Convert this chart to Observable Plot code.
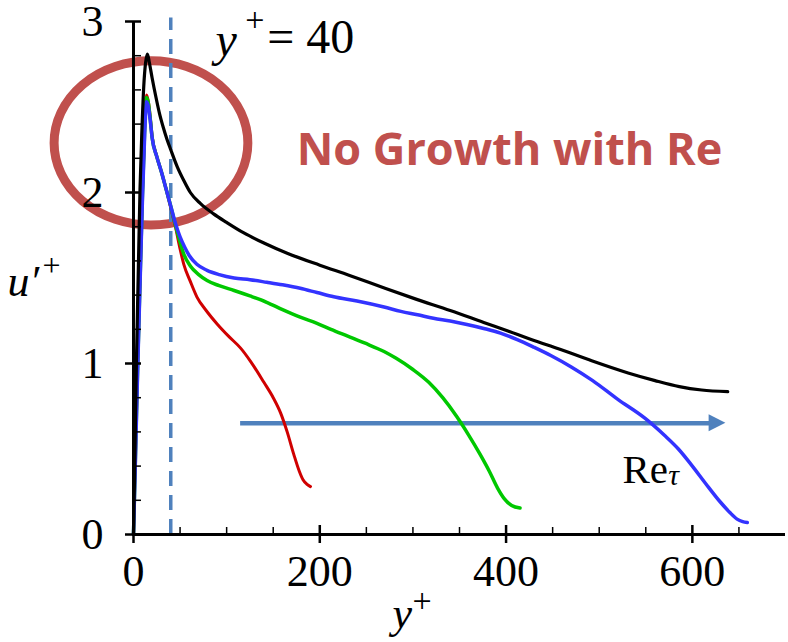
<!DOCTYPE html>
<html>
<head>
<meta charset="utf-8">
<script src="https://cdn.jsdelivr.net/npm/d3@7"></script>
<script src="https://cdn.jsdelivr.net/npm/@observablehq/plot@0.6"></script>
<style>
  body { margin: 0; background: #fff; }
</style>
</head>
<body>
<div id="chart"></div>
<script>
// Streamwise turbulence intensity u'+ against wall distance y+ for four channel flows.

const redYPlus = [0, 2, 4.5, 7, 9.5, 12, 14, 16, 18, 20, 25, 30, 35, 40, 45, 50, 54, 61, 68, 78, 90, 102, 115, 126, 140, 150, 158, 165, 172, 178, 182, 186, 190];
const redU     = [0, 0.45, 1.0, 1.49, 1.98, 2.38, 2.57, 2.53, 2.44, 2.33, 2.21, 2.12, 2.02, 1.91, 1.80, 1.67, 1.58, 1.48, 1.39, 1.31, 1.23, 1.16, 1.09, 1.01, 0.89, 0.80, 0.71, 0.60, 0.47, 0.37, 0.32, 0.295, 0.28];

const greenYPlus = [0, 2, 4.5, 7, 9.5, 12, 14, 16, 18, 20, 25, 30, 35, 40, 45, 50, 54, 61, 70, 79, 92, 108, 125, 143, 160, 179, 197, 212, 230, 248, 269, 282, 300, 317, 332, 347, 360, 372, 382, 391, 398, 406, 415];
const greenU     = [0, 0.44, 0.99, 1.48, 1.97, 2.37, 2.555, 2.52, 2.43, 2.32, 2.21, 2.12, 2.02, 1.92, 1.81, 1.71, 1.64, 1.57, 1.52, 1.485, 1.455, 1.427, 1.395, 1.358, 1.315, 1.271, 1.235, 1.20, 1.16, 1.12, 1.07, 1.03, 0.965, 0.89, 0.80, 0.69, 0.58, 0.47, 0.37, 0.27, 0.21, 0.17, 0.155];

const blueYPlus = [0, 2, 4.5, 7, 9.5, 12, 14, 16, 18, 20, 25, 30, 35, 40, 45, 50, 55, 60, 68, 79, 92, 108, 125, 143, 160, 179, 197, 215, 240, 269, 287, 305, 322, 340, 358, 376, 394, 412, 430, 448, 470, 493, 520, 549, 570, 585, 600, 614, 630, 640, 648, 654, 659];
const blueU     = [0, 0.42, 0.97, 1.46, 1.94, 2.34, 2.53, 2.50, 2.42, 2.32, 2.21, 2.12, 2.02, 1.92, 1.82, 1.74, 1.68, 1.63, 1.58, 1.545, 1.52, 1.50, 1.49, 1.475, 1.46, 1.44, 1.415, 1.39, 1.365, 1.33, 1.305, 1.285, 1.265, 1.248, 1.228, 1.205, 1.178, 1.14, 1.095, 1.047, 0.98, 0.90, 0.79, 0.68, 0.58, 0.50, 0.40, 0.30, 0.19, 0.13, 0.09, 0.075, 0.07];

const blackYPlus = [0, 1.5, 3.1, 5, 7, 9, 11, 13, 15, 17, 20, 24, 28, 32, 36, 40, 47, 54, 61, 72, 86, 100, 118, 140, 165, 200, 232, 270, 304, 340, 376, 402, 430, 457, 490, 531, 560, 586, 610, 638];
const blackU     = [0, 0.45, 1.0, 1.5, 2.02, 2.36, 2.62, 2.76, 2.81, 2.76, 2.67, 2.56, 2.46, 2.38, 2.31, 2.25, 2.15, 2.07, 2.00, 1.935, 1.875, 1.825, 1.765, 1.705, 1.645, 1.575, 1.515, 1.44, 1.375, 1.31, 1.24, 1.19, 1.135, 1.085, 1.02, 0.945, 0.90, 0.865, 0.845, 0.835];

const xTicks = [0, 200, 400, 600];
const xMinorTicks = [50, 100, 150, 250, 300, 350, 450, 500, 550, 650];
const yTicks = [0, 1, 2, 3];
const yMinorTicks = [0.2, 0.4, 0.6, 0.8, 1.2, 1.4, 1.6, 1.8, 2.2, 2.4, 2.6, 2.8];

const markerYPlus = 40;

const serif = "'Liberation Serif', 'Times New Roman', serif";
const accent = "#4F81BD";
const brick = "#C0504D";

const rows = (xs, ys) => xs.map((x, i) => ({x, y: ys[i]}));

const curves = [
  {data: rows(redYPlus, redU), stroke: "#D00000", width: 3},
  {data: rows(greenYPlus, greenU), stroke: "#00C800", width: 3.5},
  {data: rows(blueYPlus, blueU), stroke: "#3333FF", width: 3.5},
  {data: rows(blackYPlus, blackU), stroke: "#000000", width: 3.2}
];

// Ring around the near-wall peak (centre and radii in data units)
const ring = {cx: 19.3, cy: 2.287, rx: 104, ry: 0.48};
function ringMark(index, {x, y}) {
  const cx = x(ring.cx), cy = y(ring.cy);
  return d3.create("svg:ellipse")
    .attr("cx", cx).attr("cy", cy)
    .attr("rx", x(ring.cx + ring.rx) - cx)
    .attr("ry", cy - y(ring.cy + ring.ry))
    .attr("fill", "none")
    .attr("stroke", brick)
    .attr("stroke-width", 9)
    .node();
}

// Reynolds-number arrow
const arrow = {x1: 115, x2: 636, y: 0.651, head: 18, half: 0.05};
function arrowHeadMark(index, {x, y}) {
  const tip = x(arrow.x2), base = x(arrow.x2 - arrow.head);
  const yc = y(arrow.y), hh = y(arrow.y - arrow.half) - yc;
  return d3.create("svg:path")
    .attr("d", `M${tip},${yc}L${base},${yc - hh}L${base},${yc + hh}Z`)
    .attr("fill", accent)
    .node();
}

const chart = Plot.plot({
  width: 788,
  height: 642,
  marginLeft: 133,
  marginRight: 3,
  marginTop: 21,
  marginBottom: 108,
  x: {domain: [0, 700]},
  y: {domain: [0, 3]},
  style: {background: "white", overflow: "visible", color: "black"},
  marks: [
    ringMark,
    Plot.ruleX([markerYPlus], {y1: 0, y2: 3.02, stroke: accent, strokeWidth: 3.5, strokeDasharray: "15,9"}),
    Plot.ruleY([arrow.y], {x1: arrow.x1, x2: arrow.x2 - arrow.head + 1, stroke: accent, strokeWidth: 4.5}),
    arrowHeadMark,
    ...curves.map(c => Plot.line(c.data, {x: "x", y: "y", stroke: c.stroke, strokeWidth: c.width, curve: "monotone-x"})),

    // axes
    Plot.ruleY([0], {x1: 0, x2: 700, strokeWidth: 3}),
    Plot.ruleX([0], {y1: 0, y2: 3, strokeWidth: 3}),
    Plot.axisX(xTicks, {tickSize: 18, dy: -9, strokeWidth: 2.5, tickFormat: () => "", label: null}),
    Plot.axisX(xMinorTicks, {tickSize: 7, dy: -7, strokeWidth: 1.5, tickFormat: () => "", label: null}),
    Plot.axisX(xTicks, {tickSize: 0, tickPadding: 20, fontSize: 44, fontFamily: serif, tickFormat: d3.format("d"), label: null}),
    Plot.axisY(yTicks, {tickSize: 16, dx: 8, strokeWidth: 2.5, tickFormat: () => "", label: null}),
    Plot.axisY(yMinorTicks, {tickSize: 8, dx: 8, strokeWidth: 1.5, tickFormat: () => "", label: null}),
    Plot.axisY(yTicks, {tickSize: 0, tickPadding: 30, fontSize: 44, fontFamily: serif, tickFormat: d3.format("d"), label: null}),

    // axis titles
    Plot.text(["y"], {frameAnchor: "bottom-left", dx: 259, dy: 93, textAnchor: "start", lineAnchor: "bottom", fontSize: 44, fontStyle: "italic", fontFamily: serif}),
    Plot.text(["+"], {frameAnchor: "bottom-left", dx: 279, dy: 77, textAnchor: "start", lineAnchor: "bottom", fontSize: 34, fontFamily: serif}),
    Plot.text(["u\u2032"], {frameAnchor: "top-left", dx: -126, dy: 274, textAnchor: "start", lineAnchor: "bottom", fontSize: 44, fontStyle: "italic", fontFamily: serif}),
    Plot.text(["+"], {frameAnchor: "top-left", dx: -91, dy: 254, textAnchor: "start", lineAnchor: "bottom", fontSize: 32, fontFamily: serif}),

    // annotations
    Plot.text(["y"], {x: 88, y: 2.80, textAnchor: "start", lineAnchor: "bottom", fontSize: 48, fontStyle: "italic", fontFamily: serif}),
    Plot.text(["+"], {x: 120, y: 2.945, textAnchor: "start", lineAnchor: "bottom", fontSize: 34, fontFamily: serif}),
    Plot.text(["= 40"], {x: 143.5, y: 2.813, textAnchor: "start", lineAnchor: "bottom", fontSize: 48, fontFamily: serif}),
    Plot.text(["No Growth with Re"], {x: 403.7, y: 2.158, textAnchor: "middle", lineAnchor: "bottom", fontSize: 45, fontWeight: "bold", fontFamily: "'Open Sans', sans-serif", fill: brick}),
    Plot.text(["Re"], {x: 525, y: 0.304, textAnchor: "start", lineAnchor: "bottom", fontSize: 41, fontFamily: serif}),
    Plot.text(["\u03C4"], {x: 574, y: 0.287, textAnchor: "start", lineAnchor: "bottom", fontSize: 30, fontStyle: "italic", fontFamily: serif})
  ]
});

document.getElementById("chart").appendChild(chart);
</script>
</body>
</html>
